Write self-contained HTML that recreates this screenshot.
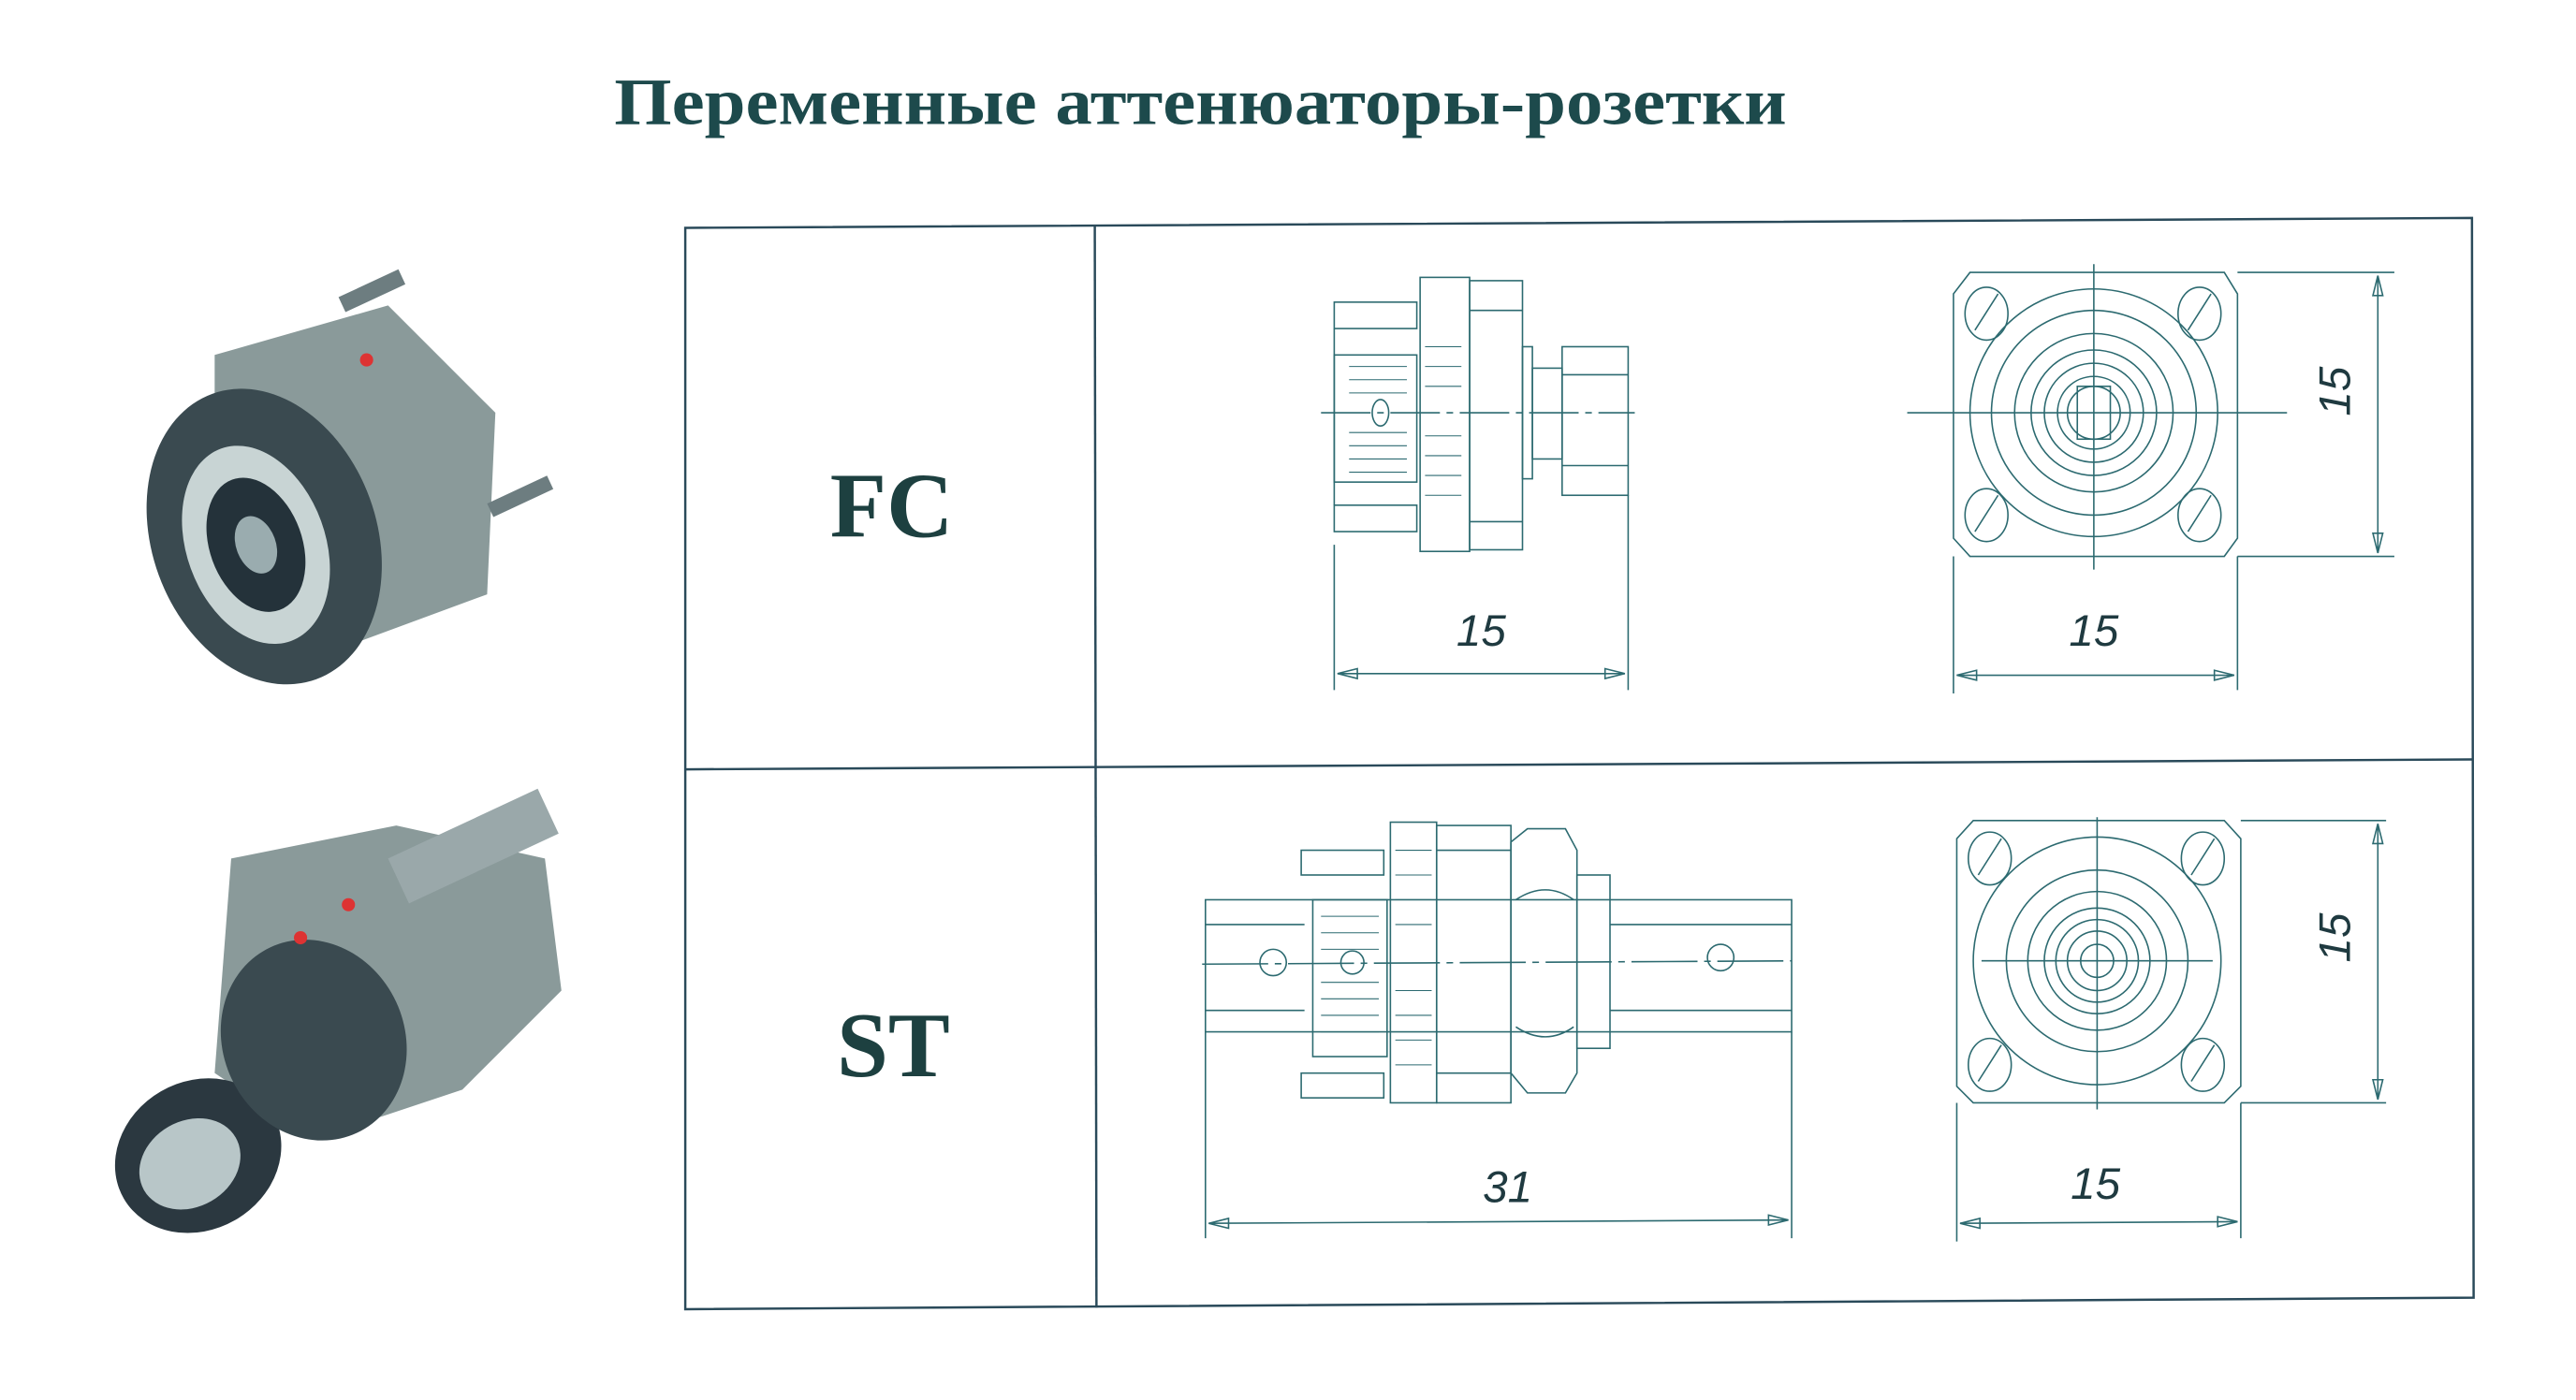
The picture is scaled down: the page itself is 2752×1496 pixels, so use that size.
<!DOCTYPE html>
<html><head><meta charset="utf-8"><style>
html,body{margin:0;padding:0;background:#fff;}
svg{display:block;}
</style></head><body>
<svg width="2752" height="1496" viewBox="0 0 1560 848" xmlns="http://www.w3.org/2000/svg">
<rect width="1560" height="848" fill="#fff"/>
<text x="372" y="75" font-family="Liberation Serif, serif" font-weight="bold" font-size="40" fill="#1d4a4c" textLength="710" lengthAdjust="spacingAndGlyphs">Переменные аттенюаторы-розетки</text>

<!-- table -->
<g stroke="#2a4a5a" stroke-width="1.4" fill="none">
<path d="M415 138 L1497 132 L1498 786 L415 793 Z"/>
<line x1="663" y1="137" x2="664" y2="792"/>
<line x1="415" y1="466" x2="1497" y2="460"/>
</g>
<text x="540" y="325" text-anchor="middle" font-family="Liberation Serif, serif" font-weight="bold" font-size="56" fill="#1d4040">FC</text>
<text x="541" y="652" text-anchor="middle" font-family="Liberation Serif, serif" font-weight="bold" font-size="56" fill="#1d4040">ST</text>

<!-- photos -->
<g>
<path d="M130 215 L235 185 L300 250 L295 360 L200 395 L130 330 Z" fill="#8a9a9a"/>
<ellipse cx="160" cy="325" rx="68" ry="92" fill="#3a4a50" transform="rotate(-20 160 325)"/>
<ellipse cx="155" cy="330" rx="42" ry="62" fill="#c8d4d4" transform="rotate(-20 155 330)"/>
<ellipse cx="155" cy="330" rx="28" ry="42" fill="#24323a" transform="rotate(-20 155 330)"/>
<ellipse cx="155" cy="330" rx="12" ry="18" fill="#9aacaf" transform="rotate(-20 155 330)"/>
<rect x="205" y="180" width="40" height="10" fill="#6d7d80" transform="rotate(-25 205 180)"/>
<rect x="295" y="305" width="40" height="9" fill="#6d7d80" transform="rotate(-25 295 305)"/>
<circle cx="222" cy="218" r="4" fill="#d33"/>
<path d="M140 520 L240 500 L330 520 L340 600 L280 660 L190 690 L130 650 Z" fill="#8a9a9a"/>
<ellipse cx="120" cy="700" rx="52" ry="45" fill="#2b3840" transform="rotate(-30 120 700)"/>
<ellipse cx="115" cy="705" rx="32" ry="26" fill="#b8c6c8" transform="rotate(-30 115 705)"/>
<ellipse cx="190" cy="630" rx="55" ry="62" fill="#3a4a50" transform="rotate(-25 190 630)"/>
<rect x="235" y="520" width="100" height="30" fill="#9aa8aa" transform="rotate(-25 235 520)"/>
<circle cx="211" cy="548" r="4" fill="#d33"/>
<circle cx="182" cy="568" r="4" fill="#d33"/>
</g>

<!-- drawings -->
<g stroke="#2c6a70" stroke-width="0.9" fill="none">
<!-- FC side -->
<rect x="808" y="183" width="50" height="16"/><rect x="808" y="306" width="50" height="16"/>
<rect x="808" y="215" width="50" height="77"/>
<line x1="808" y1="199" x2="808" y2="306"/>
<rect x="860" y="168" width="30" height="166"/>
<rect x="890" y="170" width="32" height="163"/>
<line x1="890" y1="188" x2="922" y2="188"/><line x1="890" y1="316" x2="922" y2="316"/>
<rect x="922" y="210" width="6" height="80"/>
<rect x="928" y="223" width="18" height="55"/>
<rect x="946" y="210" width="40" height="90"/>
<line x1="946" y1="227" x2="986" y2="227"/><line x1="946" y1="282" x2="986" y2="282"/>
<ellipse cx="836" cy="250" rx="5" ry="8"/>
<line x1="800" y1="250" x2="990" y2="250" stroke-dasharray="30 4 4 4"/>
<g stroke-width="0.6"><path d="M817 222h35M817 230h35M817 238h35M817 262h35M817 270h35M817 278h35M817 286h35M863 210h22M863 222h22M863 234h22M863 264h22M863 276h22M863 288h22M863 300h22"/></g>
<line x1="808" y1="330" x2="808" y2="418"/><line x1="986" y1="300" x2="986" y2="418"/>
<line x1="810" y1="408" x2="984" y2="408"/>
<path d="M810 408 l12 -3 v6 z M984 408 l-12 -3 v6 z"/>
<!-- FC front -->
<path d="M1193 165 L1347 165 L1355 178 L1355 326 L1347 337 L1193 337 L1183 326 L1183 178 Z"/>
<circle cx="1268" cy="250" r="75"/><circle cx="1268" cy="250" r="62"/><circle cx="1268" cy="250" r="48"/>
<circle cx="1268" cy="250" r="38"/><circle cx="1268" cy="250" r="30"/><circle cx="1268" cy="250" r="22"/><circle cx="1268" cy="250" r="16"/>
<rect x="1258" y="234" width="20" height="32"/>
<ellipse cx="1203" cy="190" rx="13" ry="16"/><ellipse cx="1332" cy="190" rx="13" ry="16"/>
<ellipse cx="1203" cy="312" rx="13" ry="16"/><ellipse cx="1332" cy="312" rx="13" ry="16"/>
<path d="M1196 200 l14 -22 M1325 200 l14 -22 M1196 322 l14 -22 M1325 322 l14 -22"/>
<line x1="1155" y1="250" x2="1385" y2="250"/><line x1="1268" y1="160" x2="1268" y2="345"/>
<line x1="1355" y1="165" x2="1450" y2="165"/><line x1="1355" y1="337" x2="1450" y2="337"/>
<line x1="1440" y1="167" x2="1440" y2="335"/>
<path d="M1440 167 l-3 12 h6 z M1440 335 l-3 -12 h6 z"/>
<line x1="1183" y1="337" x2="1183" y2="420"/><line x1="1355" y1="337" x2="1355" y2="418"/>
<line x1="1185" y1="409" x2="1353" y2="409"/>
<path d="M1185 409 l12 -3 v6 z M1353 409 l-12 -3 v6 z"/>
<!-- ST side -->
<rect x="730" y="545" width="355" height="80"/>
<line x1="730" y1="560" x2="790" y2="560"/><line x1="730" y1="612" x2="790" y2="612"/>
<line x1="975" y1="560" x2="1085" y2="560"/><line x1="975" y1="612" x2="1085" y2="612"/>
<rect x="788" y="515" width="50" height="15"/><rect x="788" y="650" width="50" height="15"/>
<rect x="795" y="545" width="45" height="95"/>
<rect x="842" y="498" width="28" height="170"/>
<rect x="870" y="500" width="45" height="168"/>
<line x1="870" y1="515" x2="915" y2="515"/><line x1="870" y1="650" x2="915" y2="650"/>
<path d="M915 510 L925 502 L948 502 L955 515 L955 650 L948 662 L925 662 L915 650 Z"/>
<path d="M918 545 q18 -12 35 0 M918 622 q18 12 35 0"/>
<rect x="955" y="530" width="20" height="105"/>
<circle cx="771" cy="583" r="8"/><circle cx="819" cy="583" r="7"/><circle cx="1042" cy="580" r="8"/>
<line x1="728" y1="584" x2="1085" y2="582" stroke-dasharray="40 4 4 4"/>
<g stroke-width="0.6"><path d="M800 555h35M800 565h35M800 575h35M800 595h35M800 605h35M800 615h35M800 625h35M845 515h22M845 530h22M845 545h22M845 560h22M845 600h22M845 615h22M845 630h22M845 645h22"/></g>
<line x1="730" y1="625" x2="730" y2="750"/><line x1="1085" y1="625" x2="1085" y2="750"/>
<line x1="732" y1="741" x2="1083" y2="739"/>
<path d="M732 741 l12 -3 v6 z M1083 739 l-12 -3 v6 z"/>
<!-- ST front -->
<path d="M1195 497 L1347 497 L1357 508 L1357 658 L1347 668 L1195 668 L1185 658 L1185 508 Z"/>
<circle cx="1270" cy="582" r="75"/><circle cx="1270" cy="582" r="55"/><circle cx="1270" cy="582" r="42"/>
<circle cx="1270" cy="582" r="32"/><circle cx="1270" cy="582" r="25"/><circle cx="1270" cy="582" r="18"/><circle cx="1270" cy="582" r="10"/>
<ellipse cx="1205" cy="520" rx="13" ry="16"/><ellipse cx="1334" cy="520" rx="13" ry="16"/>
<ellipse cx="1205" cy="645" rx="13" ry="16"/><ellipse cx="1334" cy="645" rx="13" ry="16"/>
<path d="M1198 530 l14 -22 M1327 530 l14 -22 M1198 655 l14 -22 M1327 655 l14 -22"/>
<line x1="1200" y1="582" x2="1340" y2="582"/><line x1="1270" y1="495" x2="1270" y2="672"/>
<line x1="1357" y1="497" x2="1445" y2="497"/><line x1="1357" y1="668" x2="1445" y2="668"/>
<line x1="1440" y1="499" x2="1440" y2="666"/>
<path d="M1440 499 l-3 12 h6 z M1440 666 l-3 -12 h6 z"/>
<line x1="1185" y1="668" x2="1185" y2="752"/><line x1="1357" y1="668" x2="1357" y2="750"/>
<line x1="1187" y1="741" x2="1355" y2="740"/>
<path d="M1187 741 l12 -3 v6 z M1355 740 l-12 -3 v6 z"/>
</g>
<g font-family="Liberation Sans, sans-serif" font-style="italic" font-size="27" fill="#1f3a40" text-anchor="middle">
<text x="897" y="391">15</text>
<text x="1268" y="391">15</text>
<text x="1414" y="237" transform="rotate(-90 1414 237)" dy="9">15</text>
<text x="913" y="728">31</text>
<text x="1269" y="726">15</text>
<text x="1414" y="568" transform="rotate(-90 1414 568)" dy="9">15</text>
</g>
</svg>
</body></html>
